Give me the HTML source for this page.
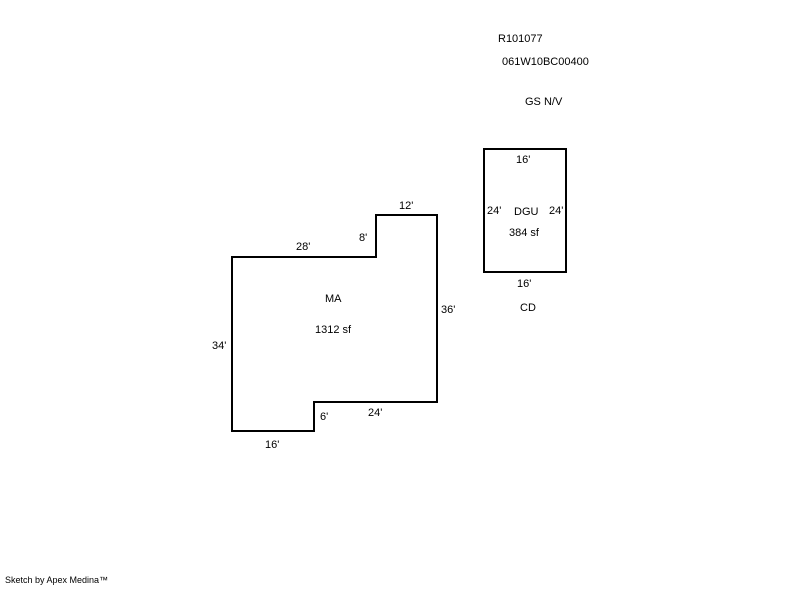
<!DOCTYPE html>
<html><head><style>
body{margin:0;background:#fff;width:800px;height:587px;overflow:hidden}
svg text{font-family:"Liberation Sans",Arial,sans-serif;font-size:11px;fill:#000}
</style></head><body>
<svg width="800" height="587" viewBox="0 0 800 587">
<polygon points="232,257 376,257 376,215 437,215 437,402 314,402 314,431 232,431" fill="none" stroke="#000" stroke-width="2"/>
<rect x="484" y="149" width="82" height="123" fill="none" stroke="#000" stroke-width="2"/>
<text x="498" y="42">R101077</text>
<text x="502" y="65">061W10BC00400</text>
<text x="525" y="105">GS N/V</text>
<text x="516" y="163">16'</text>
<text x="487" y="214">24'</text>
<text x="514" y="215">DGU</text>
<text x="549" y="214">24'</text>
<text x="509" y="236">384 sf</text>
<text x="517" y="287">16'</text>
<text x="520" y="311">CD</text>
<text x="399" y="209">12'</text>
<text x="359" y="241">8'</text>
<text x="296" y="250">28'</text>
<text x="325" y="302">MA</text>
<text x="441" y="313">36'</text>
<text x="315" y="333">1312 sf</text>
<text x="212" y="349">34'</text>
<text x="320" y="420">6'</text>
<text x="368" y="416">24'</text>
<text x="265" y="448">16'</text>
<text x="5" y="583" style="font-size:9px">Sketch by Apex Medina™</text>
</svg>
</body></html>
